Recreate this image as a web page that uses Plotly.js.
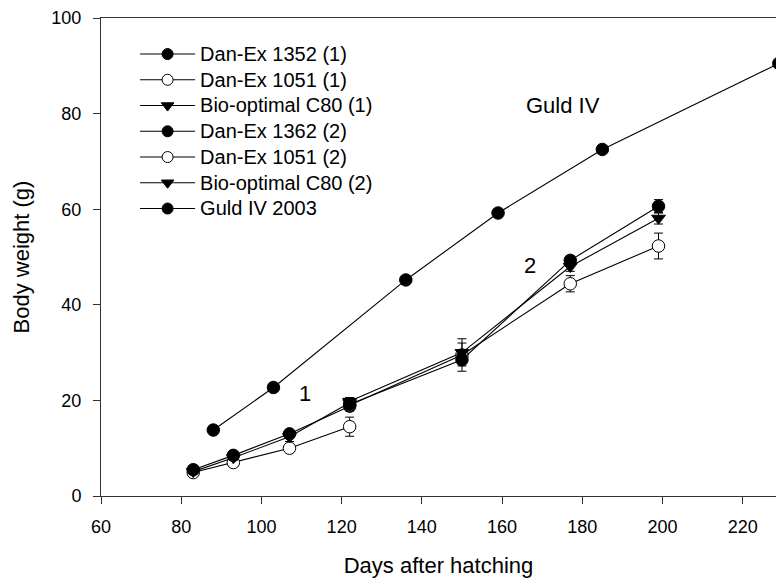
<!DOCTYPE html>
<html>
<head>
<meta charset="utf-8">
<script src="https://cdn.plot.ly/plotly-3.0.1.min.js"></script>
<style>html,body{margin:0;padding:0;background:#fff;}#chart{width:776px;height:583px;}</style>
</head>
<body>
<div id="chart"></div>
<script>
// Group 1 sampling days and weights
const days1 = [83, 93, 107, 122];
const danex1352_1 = [5.5, 8.5, 13.0, 18.8];
const danex1352_1_err = [0.4, 0.5, 0.6, 1.0];
const danex1051_1 = [4.9, 7.0, 10.0, 14.5];
const danex1051_1_err = [0.3, 0.4, 0.6, 2.0];
const bio_1 = [5.1, 8.0, 12.4, 19.5];
const bio_1_err = [0.3, 0.5, 1.0, 1.0];

// Group 2 sampling days and weights
const days2 = [122, 150, 177, 199];
const danex1362_2 = [19.2, 28.5, 49.3, 60.6];
const danex1362_2_err = [0.8, 1.3, 1.0, 1.4];
const danex1051_2 = [19.0, 29.5, 44.4, 52.3];
const danex1051_2_err = [1.0, 3.4, 1.7, 2.7];
const bio_2 = [19.8, 30.0, 48.0, 58.1];
const bio_2_err = [0.8, 2.0, 1.0, 1.2];

// Guld IV 2003 reference
const daysG = [88, 103, 136, 159, 185, 229];
const guld = [13.8, 22.7, 45.2, 59.2, 72.5, 90.5];

const names = ["Dan-Ex 1352 (1)", "Dan-Ex 1051 (1)", "Bio-optimal C80 (1)",
               "Dan-Ex 1362 (2)", "Dan-Ex 1051 (2)", "Bio-optimal C80 (2)", "Guld IV 2003"];

const xTicks = [60, 80, 100, 120, 140, 160, 180, 200, 220];
const yTicks = [0, 20, 40, 60, 80, 100];

const lineStyle = {color: '#000', width: 1.1};
function mk(symbol, size) {
  const open = symbol === 'circle-open';
  return {
    symbol: open ? 'circle' : symbol,
    size: size,
    color: open ? '#fff' : '#000',
    line: {color: '#000', width: 1}
  };
}
function err(a) {
  return {type: 'data', array: a, visible: true, color: '#000', thickness: 1, width: 4.5};
}
function tr(x, y, e, name, sym) {
  const t = {x: x, y: y, name: name, mode: 'lines+markers', type: 'scatter',
    line: lineStyle, marker: mk(sym, sym === 'triangle-down' ? 12 : 12.5), showlegend: false};
  if (e) t.error_y = err(e);
  return t;
}
function legendTr(name, sym) {
  return {x: [null], y: [null], name: '<span style="font-size:20px">' + name + '</span>',
    mode: 'lines+markers', type: 'scatter',
    line: lineStyle, marker: mk(sym, 11), showlegend: true};
}

const syms = ['circle', 'circle-open', 'triangle-down', 'circle', 'circle-open', 'triangle-down', 'circle'];

const data = [
  tr(daysG, guld, null, names[6], 'circle'),
  tr(days1, danex1051_1, danex1051_1_err, names[1], 'circle-open'),
  tr(days1, bio_1, bio_1_err, names[2], 'triangle-down'),
  tr(days1, danex1352_1, danex1352_1_err, names[0], 'circle'),
  tr(days2, danex1051_2, danex1051_2_err, names[4], 'circle-open'),
  tr(days2, bio_2, bio_2_err, names[5], 'triangle-down'),
  tr(days2, danex1362_2, danex1362_2_err, names[3], 'circle')
];
names.forEach((n, i) => data.push(legendTr(n, syms[i])));

const font = {family: 'Liberation Sans, Arial, sans-serif', color: '#000'};

const layout = {
  width: 776, height: 583,
  margin: {l: 101, r: 0, t: 18, b: 87},
  paper_bgcolor: '#fff', plot_bgcolor: '#fff',
  font: Object.assign({size: 18}, font),
  showlegend: true,
  legend: {
    x: 0.0505, y: 0.962, xanchor: 'left', yanchor: 'top',
    bgcolor: 'rgba(0,0,0,0)', borderwidth: 0,
    font: Object.assign({size: 17.5}, font),
    itemwidth: 55, tracegroupgap: 0
  },
  xaxis: {
    range: [60, 228.3], tickvals: xTicks, ticktext: xTicks.map(String),
    showgrid: false, zeroline: false, showline: true, linecolor: '#333', linewidth: 1,
    mirror: true, ticks: 'outside', ticklen: 7, tickcolor: '#333', tickwidth: 1,
    ticklabelstandoff: 7,
    tickfont: Object.assign({size: 18}, font),
    title: {text: 'Days after hatching', font: Object.assign({size: 22}, font), standoff: 22}
  },
  yaxis: {
    range: [0, 100], tickvals: yTicks, ticktext: yTicks.map(String),
    showgrid: false, zeroline: false, showline: true, linecolor: '#333', linewidth: 1,
    mirror: false, ticks: 'outside', ticklen: 7, tickcolor: '#333', tickwidth: 1,
    ticklabelstandoff: 8,
    tickfont: Object.assign({size: 18}, font),
    title: {text: 'Body weight (g)', font: Object.assign({size: 22}, font), standoff: 15}
  },
  annotations: [
    {x: 110.9, y: 21.5, text: '1', showarrow: false, font: Object.assign({size: 22}, font)},
    {x: 167, y: 48.3, text: '2', showarrow: false, font: Object.assign({size: 22}, font)},
    {x: 175.1, y: 81.7, text: 'Guld IV', showarrow: false, font: Object.assign({size: 22}, font)}
  ]
};

Plotly.newPlot('chart', data, layout, {displayModeBar: false, staticPlot: true});
</script>
</body>
</html>
